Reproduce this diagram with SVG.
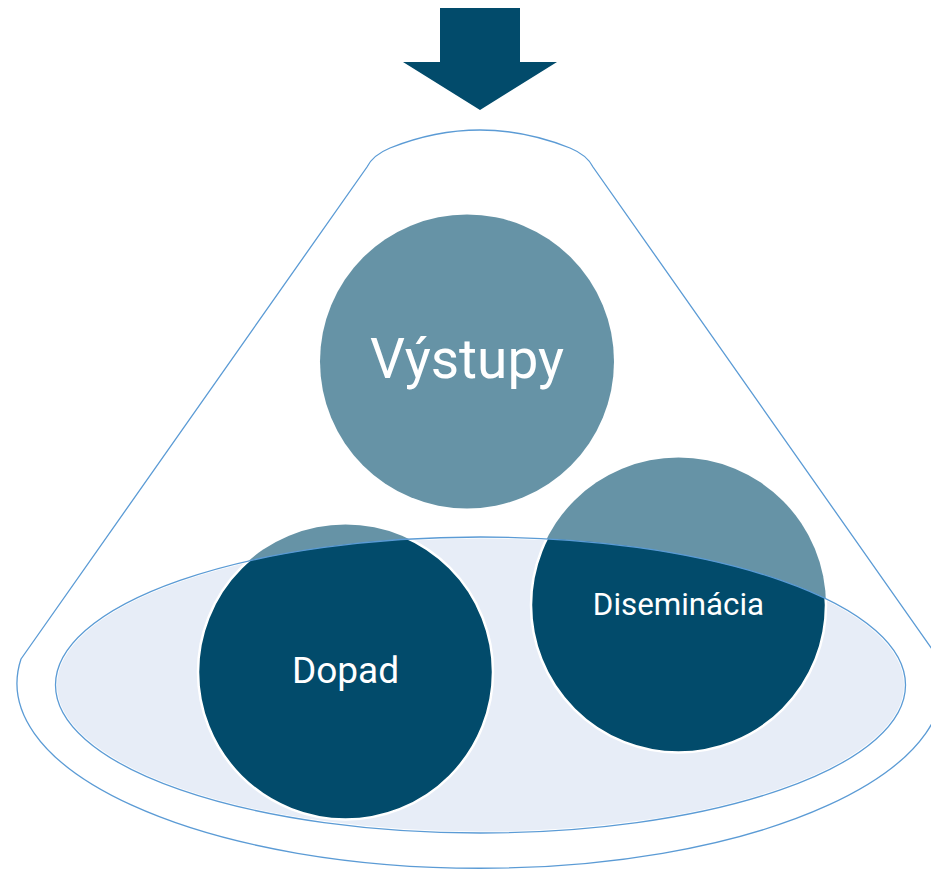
<svg xmlns="http://www.w3.org/2000/svg" width="931" height="871" viewBox="0 0 931 871">
<style>
.outline{fill:none;stroke:#5b9bd5;stroke-width:1.3}
.light{fill:#6693a6}
.dark{fill:#024b6b;stroke:#ffffff;stroke-width:2.5}
.lbl{font-family:Roboto,"Liberation Sans",sans-serif;fill:#ffffff;text-anchor:middle}
</style>
<defs>
<clipPath id="ell"><ellipse cx="480.5" cy="685" rx="425" ry="148"/></clipPath>
</defs>
<rect width="931" height="871" fill="#ffffff"/>
<g id="arrow">
<polygon points="440,8 520,8 520,62 557,62 480,110 403,62 440,62" fill="#024b6b"/>
</g>
<g id="funnel">
<path class="outline" d="M21,659 L367,167 Q373,155 390,148 C420,136 450,130 480,130 C510,130 540,136 570,148 Q587,155 593,167 L939,659 A463,185 0 1 1 21,659 Z"/>
</g>
<g id="base">
<ellipse cx="480.5" cy="685" rx="425" ry="148" fill="#e7edf7" stroke="#ffffff" stroke-width="3"/>
</g>
<g id="vystupy">
<circle class="light" cx="467" cy="361.5" r="147"/>
<text class="lbl" x="467" y="378" font-size="55">Výstupy</text>
</g>
<g id="dopad">
<circle class="light" cx="345.5" cy="672" r="147.5"/>
<circle class="dark" cx="345.5" cy="672" r="147.5" clip-path="url(#ell)"/>
<text class="lbl" x="345.5" y="683" font-size="37">Dopad</text>
</g>
<g id="diseminacia">
<circle class="light" cx="678.5" cy="605" r="147.5"/>
<circle class="dark" cx="678.5" cy="605" r="147.5" clip-path="url(#ell)"/>
<text class="lbl" x="678.5" y="615" font-size="31.3">Diseminácia</text>
</g>
<g id="connectors">
<ellipse class="outline" cx="480.5" cy="685" rx="425" ry="148"/>
</g>
</svg>
